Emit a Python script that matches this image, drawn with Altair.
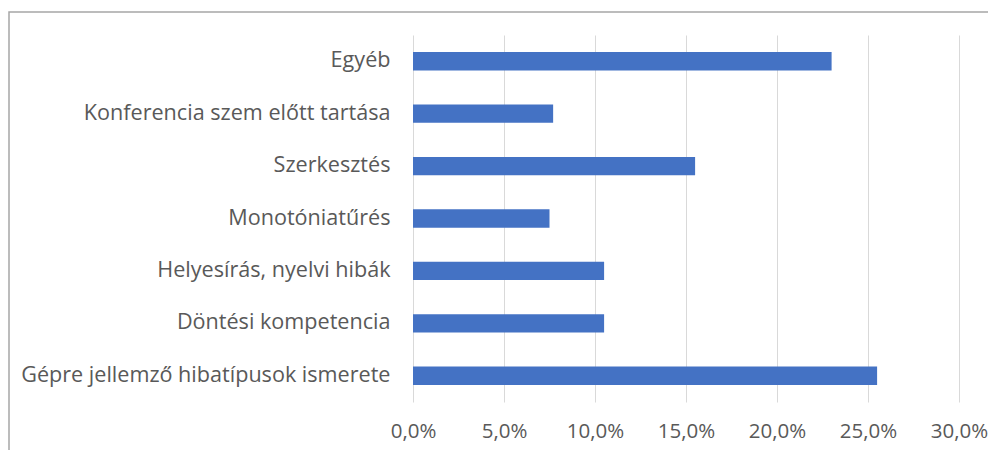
import altair as alt
import pandas as pd

categories = [
    "Egyéb",
    "Konferencia szem előtt tartása",
    "Szerkesztés",
    "Monotóniatűrés",
    "Helyesírás, nyelvi hibák",
    "Döntési kompetencia",
    "Gépre jellemző hibatípusok ismerete",
]
values = [0.230, 0.077, 0.155, 0.075, 0.105, 0.105, 0.255]
x_ticks = [0.0, 0.05, 0.10, 0.15, 0.20, 0.25, 0.30]

df = pd.DataFrame({"cat": categories, "val": values})

FONT = "Open Sans"
TXT = "#595959"

bars = alt.Chart(df).mark_bar(color="#4472C4").encode(
    x=alt.X(
        "val:Q",
        scale=alt.Scale(domain=[0, 0.3], nice=False),
        axis=alt.Axis(
            values=x_ticks,
            title=None,
            labelExpr="replace(format(datum.value, '.1%'), '.', ',')",
            grid=True,
            gridColor="#D9D9D9",
            gridWidth=1,
            domain=False,
            ticks=False,
            labelFlush=False,
            labelOverlap=False,
            labelPadding=19,
            labelFont=FONT,
            labelFontSize=20.5,
            labelColor=TXT,
        ),
    ),
    y=alt.Y(
        "cat:N",
        sort=categories,
        scale=alt.Scale(paddingInner=0.65, paddingOuter=0.325),
        axis=alt.Axis(
            title=None,
            domain=False,
            ticks=False,
            grid=False,
            labelPadding=23,
            labelFont=FONT,
            labelFontSize=21.6,
            labelColor=TXT,
            labelLimit=400,
        ),
    ),
)

border = alt.Chart(pd.DataFrame({"a": [0]})).mark_rect(
    filled=False, stroke="#A6A6A6", strokeWidth=1.5
).encode(
    x=alt.value(-404), x2=alt.value(600), y=alt.value(-23), y2=alt.value(500)
)

chart = alt.layer(border, bars).properties(
    width=546,
    height=367,
    autosize=alt.AutoSizeParams(type="none"),
    padding={"left": 405, "top": 27, "right": 29, "bottom": 48},
).configure_view(stroke=None)

chart.save("out.html", embed_options={"renderer": "svg", "actions": False})
